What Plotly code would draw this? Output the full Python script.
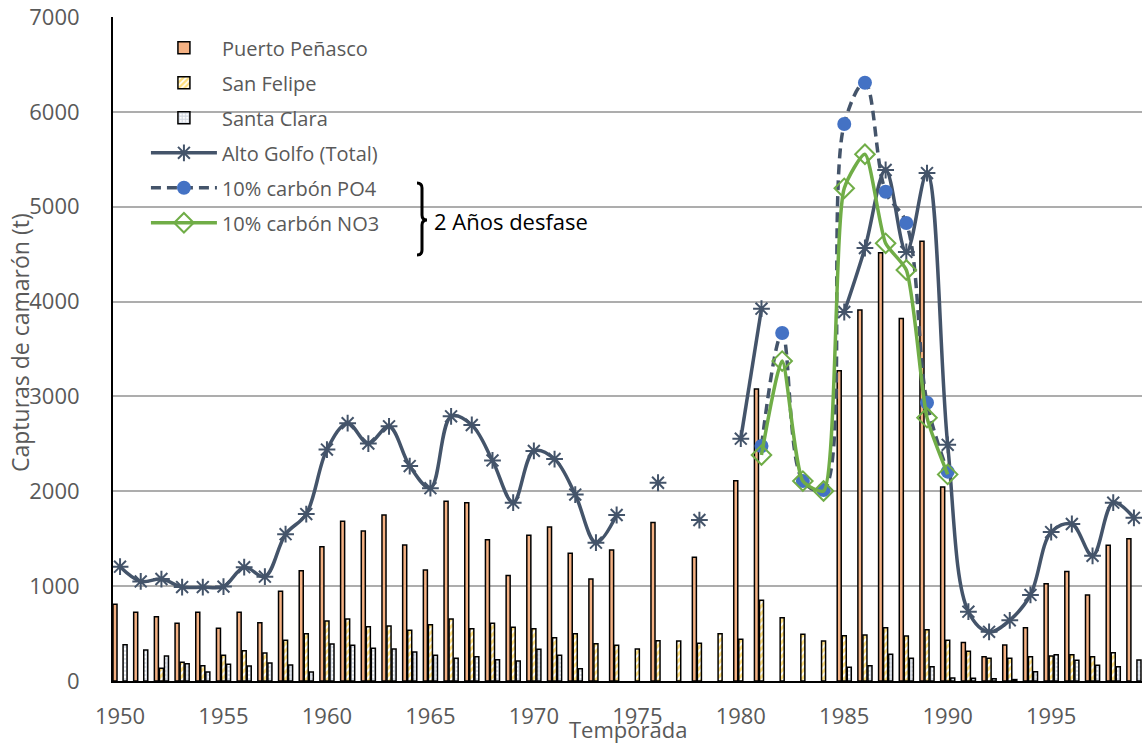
import plotly.graph_objects as go

years = list(range(1950, 2000))

puerto_penasco = [810, 724, 678, 608, 724, 555, 724, 615, 946, 1163,
                  1416, 1685, 1581, 1750, 1434, 1170, 1895, 1880, 1490, 1113,
                  1537, 1623, 1347, 1074, 1380, None, 1672, None, 1304, None,
                  2110, 3078, None, None, None, 3272, 3912, 4515, 3822, 4636,
                  2045, 406, 256, 380, 562, 1024, 1154, 907, 1430, 1500]

san_felipe = [None, None, 134, 197, 161, 271, 319, 295, 429, 499,
              632, 654, 573, 580, 534, 594, 654, 551, 608, 566,
              551, 456, 499, 393, 376, 337, 425, 421, 397, 499,
              439, 851, 667, 492, 421, 478, 485, 562, 474, 541,
              429, 313, 239, 239, 256, 264, 278, 256, 298, None]

santa_clara = [383, 327, 264, 183, 95, 176, 158, 190, 169, 95,
               390, 376, 345, 337, 306, 271, 239, 256, 225, 211,
               334, 271, 130, None, None, None, None, None, None, None,
               None, None, None, None, None, 144, 161, 281, 239, 151,
               32, 30, 25, 15, 98, 278, 218, 165, 151, 221]

alto_golfo = [1205, 1050, 1075, 990, 990, 995, 1200, 1100, 1548, 1760,
              2440, 2718, 2503, 2685, 2266, 2033, 2790, 2699, 2325, 1880,
              2426, 2340, 1965, 1458, 1750, None, 2090, None, 1697, None,
              2555, 3925, None, None, None, 3890, 4565, 5387, 4523, 5355,
              2490, 731, 518, 640, 907, 1570, 1655, 1320, 1880, 1720]

model_years = list(range(1981, 1991))
carbon_po4 = [2477, 3669, 2108, 2013, 5872, 6307, 5158, 4828, 2934, 2207]
carbon_no3 = [2382, 3373, 2108, 2003, 5194, 5553, 4614, 4333, 2776, 2178]

x_ticks = [1950, 1955, 1960, 1965, 1970, 1975, 1980, 1985, 1990, 1995]

FONT = "Open Sans"
GREY = "#595959"
SLATE = "#44546A"

W, H = 1142, 744
L, R, T, B = 113, 0, 17, 63
XR = [1949.66, 1999.39]
YR = [0, 7000]
PW, PH = W - L - R, H - T - B


def px_x(p):
    return XR[0] + (p - L) / PW * (XR[1] - XR[0])


def px_y(p):
    return YR[0] + (H - B - p) / PH * (YR[1] - YR[0])


fig = go.Figure()

fig.add_trace(go.Bar(
    x=years, y=puerto_penasco, name="Puerto Peñasco", legendgroup="g1",
    marker=dict(color="#F4B183", line=dict(color="black", width=1.5)),
))
fig.add_trace(go.Bar(
    x=years, y=san_felipe, name="San Felipe", legendgroup="g2",
    marker=dict(color="white", line=dict(color="black", width=1.5),
                pattern=dict(shape="/", fgcolor="#FFC000", bgcolor="white",
                             size=5, solidity=0.6)),
))
fig.add_trace(go.Bar(
    x=years, y=santa_clara, name="Santa Clara", legendgroup="g3",
    marker=dict(color="white", line=dict(color="black", width=1.5),
                pattern=dict(shape="+", fgcolor="#A5B1C4", bgcolor="white",
                             size=4, solidity=0.6)),
))
fig.add_trace(go.Scatter(
    x=years, y=alto_golfo, name="Alto Golfo (Total)", legendgroup="g4",
    mode="lines+markers", connectgaps=False,
    line=dict(color=SLATE, width=3.5, shape="spline", smoothing=1),
    marker=dict(symbol="asterisk-open", size=14, color=SLATE,
                line=dict(color=SLATE, width=2)),
))
fig.add_trace(go.Scatter(
    x=model_years, y=carbon_po4, name="10% carbón PO4", legendgroup="g5",
    mode="lines+markers",
    line=dict(color=SLATE, width=3.5, dash="10px,6px", shape="spline", smoothing=1),
    marker=dict(symbol="circle", size=14, color="#4472C4"),
))
fig.add_trace(go.Scatter(
    x=model_years, y=carbon_no3, name="10% carbón NO3", legendgroup="g6",
    mode="lines+markers",
    line=dict(color="#70AD47", width=3.5, shape="spline", smoothing=0.6),
    marker=dict(symbol="diamond-open", size=15, color="#70AD47",
                line=dict(color="#70AD47", width=2)),
))

# brace for "2 Años desfase"
brace_px = [(417, 183), (422, 183), (422, 188), (422, 215), (422, 220), (427, 220),
            (422, 220), (422, 225), (422, 250), (422, 255), (417, 255)]
bp = [(px_x(a), px_y(b)) for a, b in brace_px]
path = (f"M {bp[0][0]},{bp[0][1]} Q {bp[1][0]},{bp[1][1]} {bp[2][0]},{bp[2][1]} "
        f"L {bp[3][0]},{bp[3][1]} Q {bp[4][0]},{bp[4][1]} {bp[5][0]},{bp[5][1]} "
        f"Q {bp[6][0]},{bp[6][1]} {bp[7][0]},{bp[7][1]} "
        f"L {bp[8][0]},{bp[8][1]} Q {bp[9][0]},{bp[9][1]} {bp[10][0]},{bp[10][1]}")

fig.update_layout(
    width=W, height=H,
    margin=dict(l=L, r=R, t=T, b=B),
    paper_bgcolor="white", plot_bgcolor="white",
    barmode="group", bargap=0.27, bargroupgap=0.2,
    font=dict(family=FONT, color=GREY),
    showlegend=True,
    legend=dict(x=0.032, y=0.983, xanchor="left", yanchor="top",
                bgcolor="rgba(0,0,0,0)", font=dict(size=20, color=GREY, family=FONT),
                traceorder="grouped", tracegroupgap=6, itemwidth=66),
    xaxis=dict(range=XR, tickmode="array", tickvals=x_ticks,
               showgrid=False, zeroline=False,
               showline=True, linecolor="black", linewidth=2,
               ticks="outside", ticklen=15, tickcolor="rgba(0,0,0,0)",
               tickfont=dict(size=22, color=GREY, family=FONT)),
    yaxis=dict(range=YR, dtick=1000, showgrid=True, gridcolor="#ADADAD", gridwidth=1.5,
               zeroline=False, showline=True, linecolor="black", linewidth=2,
               ticks="outside", ticklen=27, tickcolor="rgba(0,0,0,0)",
               tickfont=dict(size=22, color=GREY, family=FONT)),
    shapes=[dict(type="path", path=path, xref="x", yref="y",
                 line=dict(color="black", width=3))],
    annotations=[
        dict(text="Temporada", xref="paper", yref="paper",
             x=(628 - L) / PW, y=-(729 - (H - B)) / PH, xanchor="center", yanchor="middle",
             showarrow=False, font=dict(size=22, color=GREY, family=FONT)),
        dict(text="Capturas de camarón (t)", xref="paper", yref="paper",
             x=(20 - L) / PW, y=(H - B - 343) / PH, xanchor="center", yanchor="middle",
             textangle=-90, showarrow=False, font=dict(size=23, color=GREY, family=FONT)),
        dict(text="2 Años desfase", xref="x", yref="y",
             x=px_x(432), y=px_y(221), xanchor="left", yanchor="middle",
             showarrow=False, font=dict(size=22, color="black", family=FONT)),
    ],
)

fig.write_html("out.html", config={"displayModeBar": False},
               post_script="document.body.style.margin='0px';document.body.style.overflow='hidden';")
